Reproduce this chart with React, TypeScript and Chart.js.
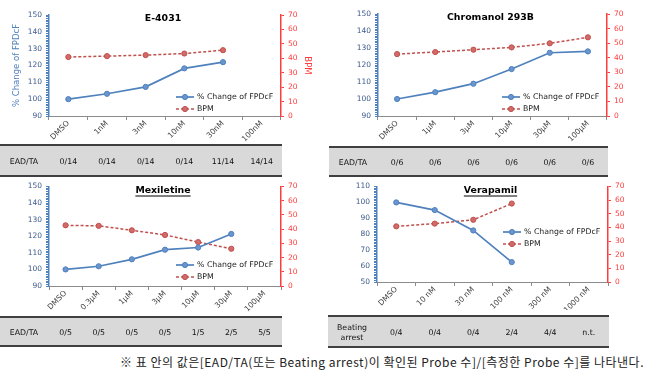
import React, { useEffect, useRef } from 'react';
import { Chart, registerables } from 'chart.js';

Chart.register(...registerables);

const FONT = '"DejaVu Sans", Verdana, sans-serif';

// ---- data ----
const e4031Labels = ['DMSO', '1nM', '3nM', '10nM', '30nM', '100nM'];
const e4031Fpd = [100, 103.2, 107.3, 118.3, 122, null];
const e4031Bpm = [40.9, 41.5, 42.2, 43.3, 45.6, null];
const e4031Table = ['0/14', '0/14', '0/14', '0/14', '11/14', '14/14'];

const chromLabels = ['DMSO', '1μM', '3μM', '10μM', '30μM', '100μM'];
const chromFpd = [100, 104, 109, 117.6, 127.2, 128];
const chromBpm = [42.5, 43.9, 45.5, 47.1, 49.9, 54];
const chromTable = ['0/6', '0/6', '0/6', '0/6', '0/6', '0/6'];

const mexLabels = ['DMSO', '0.3μM', '1μM', '3μM', '10μM', '30μM', '100μM'];
const mexFpd = [100, 101.9, 106.1, 111.9, 113.2, 121.4, null];
const mexBpm = [42.7, 42.3, 39.2, 35.9, 30.9, 26.2, null];
const mexTable = ['0/5', '0/5', '0/5', '0/5', '1/5', '2/5', '5/5'];

const veraLabels = ['DMSO', '10 nM', '30 nM', '100 nM', '300 nM', '1000 nM'];
const veraFpd = [100, 95.2, 82.4, 62.5, null, null];
const veraBpm = [40.8, 42.8, 45.6, 57.5, null, null];
const veraTable = ['0/4', '0/4', '0/4', '2/4', '4/4', 'n.t.'];

const seriesNames = ['% Change of FPDcF', 'BPM'];
const leftAxisTitle = '% Change of FPDcF';
const rightAxisTitle = 'BPM';
const footnote = '※ 표 안의 값은[EAD/TA(또는 Beating arrest)이 확인된 Probe 수]/[측정한 Probe 수]를 나타낸다.';

// ---- layout / styling per panel ----
const panels = [
  { title: 'E-4031', underline: false, labels: e4031Labels, fpd: e4031Fpd, bpm: e4031Bpm, table: e4031Table, tableLabel: ['EAD/TA'],
    yMin: 90, yMax: 150, left: 0, top: 0, w: 320, h: 178, padTop: 15, padBottom: 34, leftW: 49, rightW: 39,
    legendDy: -19, tY0: 29, tY1: 60, axisTitles: true },
  { title: 'Chromanol 293B', underline: false, labels: chromLabels, fpd: chromFpd, bpm: chromBpm, table: chromTable, tableLabel: ['EAD/TA'],
    yMin: 90, yMax: 150, left: 320, top: 0, w: 332, h: 178, padTop: 14, padBottom: 34, leftW: 58, rightW: 45,
    legendDy: -19, tY0: 31, tY1: 60, axisTitles: false },
  { title: 'Mexiletine', underline: true, labels: mexLabels, fpd: mexFpd, bpm: mexBpm, table: mexTable, tableLabel: ['EAD/TA'],
    yMin: 90, yMax: 150, left: 0, top: 178, w: 320, h: 172, padTop: 8, padBottom: 36, leftW: 49, rightW: 39,
    legendDy: -21, tY0: 31, tY1: 60, axisTitles: false },
  { title: 'Verapamil', underline: true, labels: veraLabels, fpd: veraFpd, bpm: veraBpm, table: veraTable, tableLabel: ['Beating', 'arrest'],
    yMin: 50, yMax: 110, left: 320, top: 178, w: 332, h: 172, padTop: 8, padBottom: 40, leftW: 57, rightW: 44,
    legendDy: -50, tY0: 34, tY1: 65, axisTitles: false },
];

const BLUE = '#4F81BD';
const BLUE_TXT = '#3D5A8C';
const RED_AXIS = '#FF3B3B';
const RED = '#C0504D';

function makeDecor(p: any) {
  return {
    id: 'decor',
    afterDraw(chart: any) {
      const ctx = chart.ctx;
      const a = chart.chartArea;
      const xs = chart.scales.x;
      ctx.save();
      // title
      ctx.font = `bold 9.4px ${FONT}`;
      ctx.fillStyle = '#000';
      ctx.textAlign = 'center';
      ctx.textBaseline = 'middle';
      const tx = (a.left + a.right) / 2 - 2;
      const ty = a.top + 4;
      ctx.fillText(p.title, tx, ty);
      if (p.underline) {
        const tw = ctx.measureText(p.title).width;
        ctx.strokeStyle = '#000';
        ctx.lineWidth = 1;
        ctx.beginPath();
        ctx.moveTo(tx - tw / 2, ty + 5.5);
        ctx.lineTo(tx + tw / 2, ty + 5.5);
        ctx.stroke();
      }
      // legend
      const lx = a.right - 84;
      chart.data.datasets.forEach((ds: any, i: number) => {
        const ly = a.bottom + p.legendDy + i * 12;
        ctx.strokeStyle = ds.borderColor;
        ctx.lineWidth = ds.borderWidth;
        ctx.setLineDash(ds.borderDash || []);
        ctx.beginPath();
        ctx.moveTo(lx - 21, ly);
        ctx.lineTo(lx - 3, ly);
        ctx.stroke();
        ctx.setLineDash([]);
        ctx.fillStyle = ds.pointBackgroundColor;
        ctx.beginPath();
        ctx.arc(lx - 12, ly, ds.pointRadius, 0, Math.PI * 2);
        ctx.fill();
        ctx.lineWidth = 1;
        ctx.strokeStyle = ds.pointBorderColor;
        ctx.stroke();
        ctx.font = `7.8px ${FONT}`;
        ctx.fillStyle = '#222';
        ctx.textAlign = 'left';
        ctx.fillText(ds.label, lx, ly);
      });
      // table
      const x0 = a.left - 49;
      const x1 = a.right + 1;
      const y0 = a.bottom + p.tY0;
      const y1 = a.bottom + p.tY1;
      ctx.fillStyle = '#D9D9D9';
      ctx.fillRect(x0, y0, x1 - x0, y1 - y0);
      ctx.strokeStyle = '#404040';
      ctx.lineWidth = 2;
      ctx.beginPath();
      ctx.moveTo(x0, y0);
      ctx.lineTo(x1, y0);
      ctx.moveTo(x0, y1);
      ctx.lineTo(x1, y1);
      ctx.stroke();
      ctx.font = `7.8px ${FONT}`;
      ctx.fillStyle = '#111';
      ctx.textAlign = 'center';
      const ym = (y0 + y1) / 2 + 1;
      const n = p.tableLabel.length;
      p.tableLabel.forEach((t: string, i: number) => {
        ctx.fillText(t, a.left - 25, ym + (i - (n - 1) / 2) * 10);
      });
      p.table.forEach((t: string, i: number) => {
        ctx.fillText(t, xs.getPixelForValue(i), ym);
      });
      ctx.restore();
    },
  };
}

function PanelChart({ p }: { p: any }) {
  const ref = useRef<HTMLCanvasElement | null>(null);
  useEffect(() => {
    if (!ref.current) return;
    const chart = new Chart(ref.current, {
      type: 'line',
      data: {
        labels: p.labels,
        datasets: [
          {
            label: seriesNames[0], data: p.fpd, yAxisID: 'y',
            borderColor: BLUE, borderWidth: 1.7, pointRadius: 2.6, pointBackgroundColor: '#6A95CF',
            pointBorderColor: BLUE, pointBorderWidth: 1, spanGaps: false, tension: 0,
          },
          {
            label: seriesNames[1], data: p.bpm, yAxisID: 'y1',
            borderColor: RED, borderWidth: 1.5, borderDash: [3, 2], pointRadius: 2.6, pointBackgroundColor: '#D26B68',
            pointBorderColor: RED, pointBorderWidth: 1, spanGaps: false, tension: 0,
          },
        ],
      },
      options: {
        responsive: false,
        animation: false,
        devicePixelRatio: 1,
        layout: { padding: { top: p.padTop, bottom: p.padBottom, left: 0, right: 0 } },
        plugins: { legend: { display: false }, tooltip: { enabled: false }, title: { display: false } },
        scales: {
          x: {
            type: 'category',
            offset: true,
            grid: { offset: true, drawOnChartArea: false, drawTicks: true, tickLength: 4, color: '#8C8C8C' },
            border: { color: '#8C8C8C', width: 1 },
            ticks: { minRotation: 45, maxRotation: 45, autoSkip: false, padding: -1, color: '#404040', font: { family: FONT, size: 7.6 } },
            afterFit: (s: any) => { s.height = 28; },
          },
          y: {
            type: 'linear', position: 'left', min: p.yMin, max: p.yMax,
            grid: { drawOnChartArea: false, drawTicks: true, tickLength: 3, color: BLUE },
            border: { color: BLUE, width: 1.5 },
            ticks: {
              stepSize: 1, autoSkip: false, padding: 4, color: BLUE_TXT, font: { family: FONT, size: 7.5 },
              callback: (v: any) => (Math.round(v) % 10 === 0 ? String(v) : ''),
            },
            title: { display: p.axisTitles, text: leftAxisTitle, color: BLUE, font: { family: FONT, size: 8.5 }, padding: { top: 12 } },
            afterFit: (s: any) => { s.width = p.leftW; },
          },
          y1: {
            type: 'linear', position: 'right', min: 0, max: 70,
            grid: { drawOnChartArea: false, drawTicks: true, tickLength: 3, color: RED_AXIS },
            border: { color: RED_AXIS, width: 1.5 },
            ticks: { stepSize: 10, autoSkip: false, padding: 4, color: RED_AXIS, font: { family: FONT, size: 7.5 } },
            title: { display: p.axisTitles, text: rightAxisTitle, color: RED_AXIS, font: { family: FONT, size: 8.5 }, padding: { top: 8 } },
            afterFit: (s: any) => { s.width = p.rightW; },
          },
        },
      },
      plugins: [makeDecor(p)],
    } as any);
    return () => chart.destroy();
  }, [p]);
  return (
    <canvas
      ref={ref}
      width={p.w}
      height={p.h}
      style={{ position: 'absolute', left: p.left, top: p.top, width: p.w, height: p.h }}
    />
  );
}

export default function App() {
  return (
    <div style={{ position: 'fixed', left: 0, top: 0, width: 652, height: 376, background: '#fff', overflow: 'hidden' }}>
      {panels.map((p, i) => (
        <PanelChart key={i} p={p} />
      ))}
      <div
        style={{
          position: 'absolute', right: 8, top: 354, lineHeight: '16px', fontSize: 12, letterSpacing: '0.5px',
          fontFamily: '"Noto Sans CJK KR", sans-serif', color: '#222', whiteSpace: 'nowrap',
        }}
      >
        {footnote}
      </div>
    </div>
  );
}
